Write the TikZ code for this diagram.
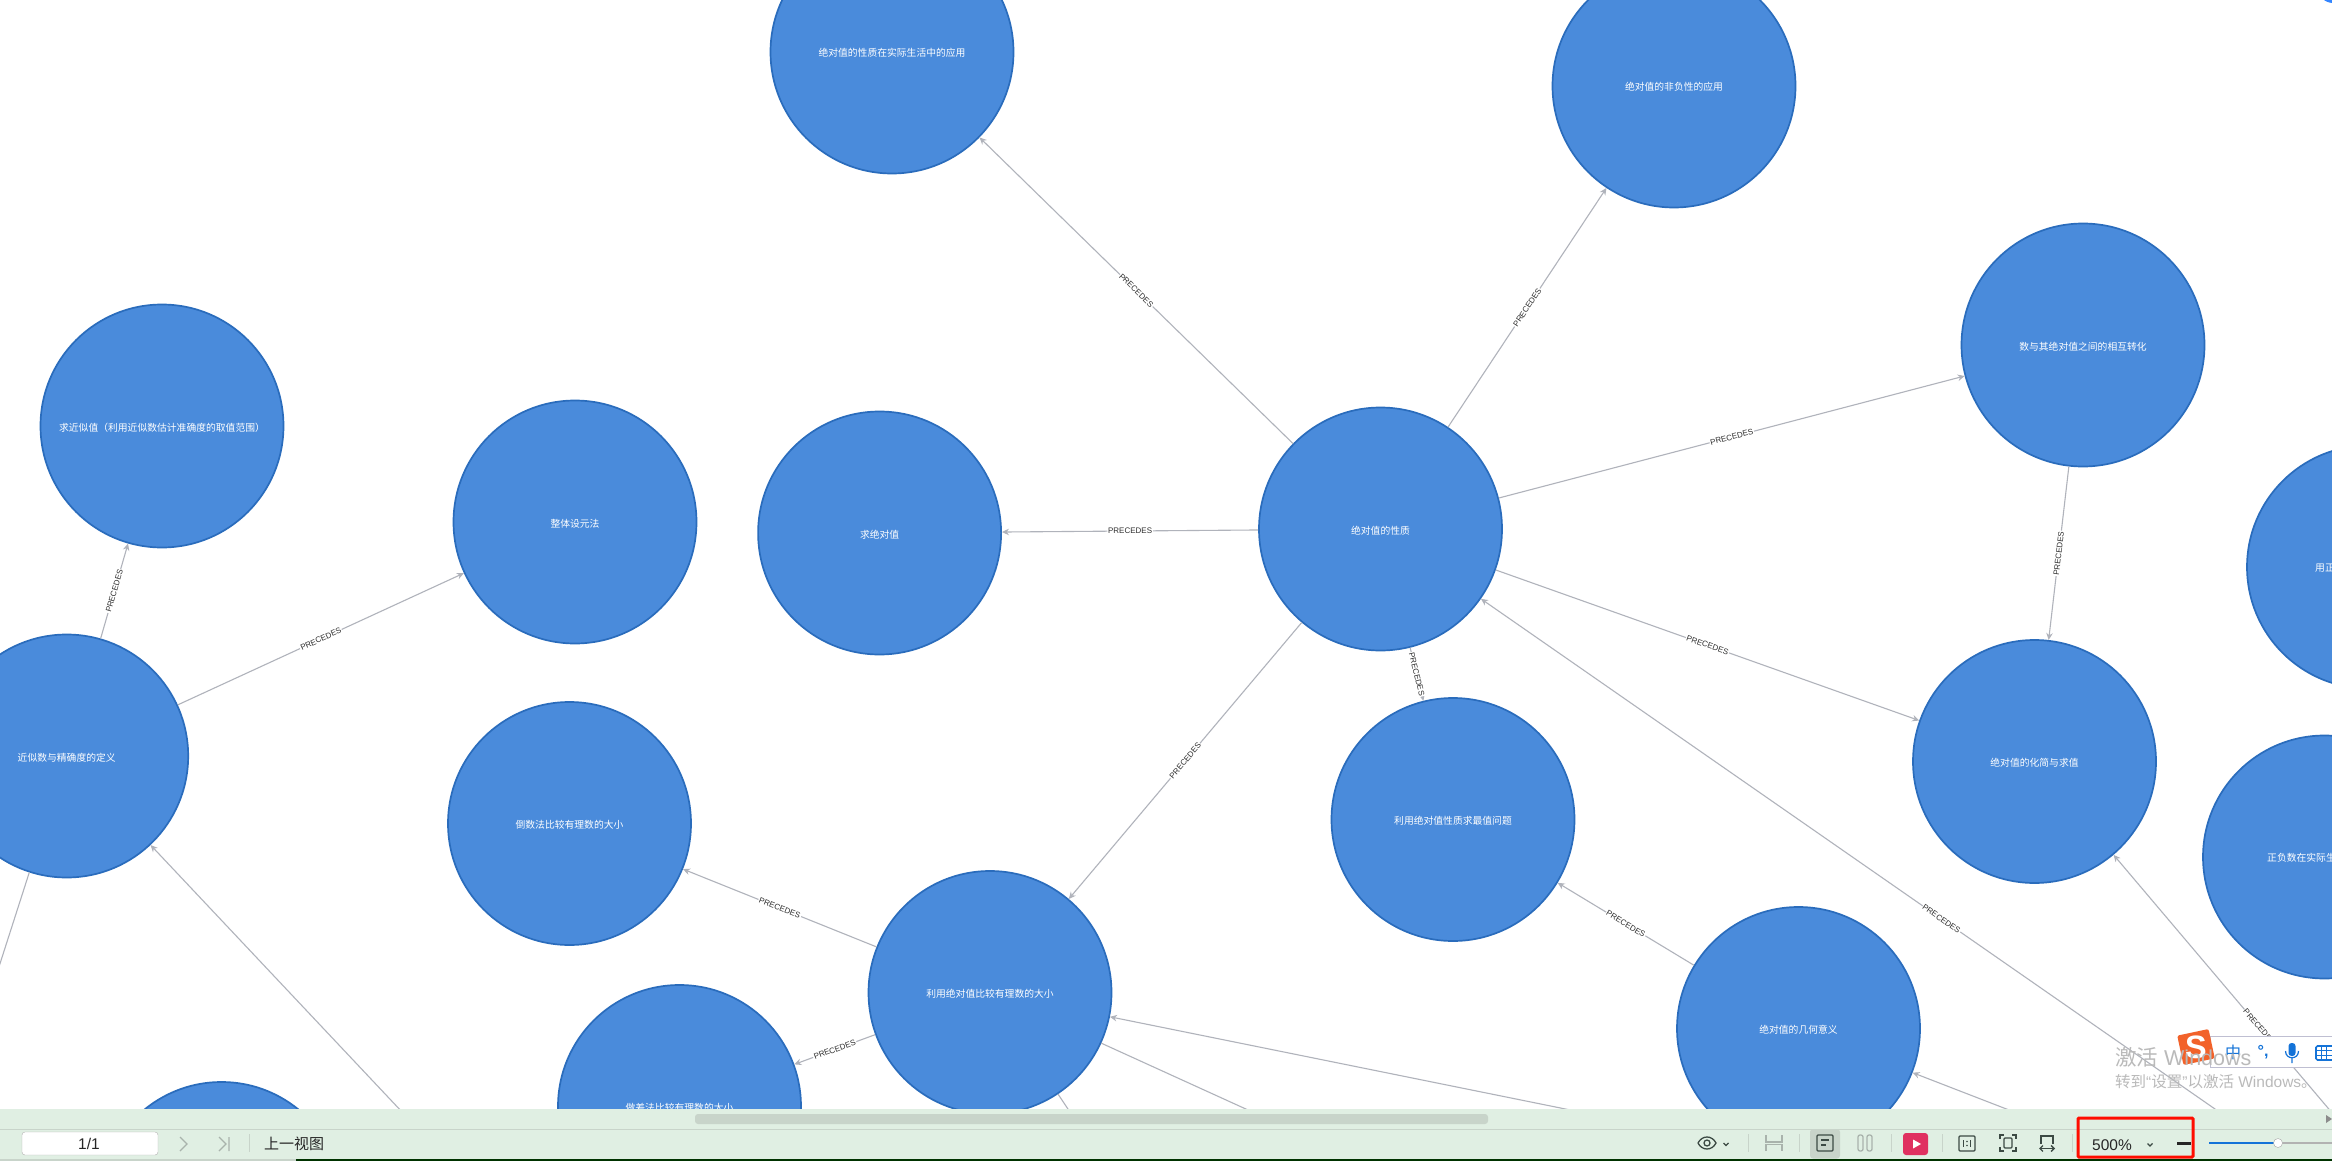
\documentclass[tikz,border=0pt]{standalone}
\usepackage{fontspec}
\setmainfont{Liberation Sans}
\newfontfamily\cjk{Noto Sans CJK SC}
\usetikzlibrary{arrows.meta}
\definecolor{topicfill}{HTML}{4A8BDB}
\definecolor{topicline}{HTML}{2A6CBC}
\definecolor{edgegray}{HTML}{B0B3BB}
\definecolor{bandgreen}{HTML}{E0EFE3}
\definecolor{bandline}{HTML}{C8D4CA}
\definecolor{iconink}{HTML}{3C4A44}
\definecolor{icongray}{HTML}{A9B3AC}
\definecolor{imeblue}{HTML}{1473D8}
\definecolor{playred}{HTML}{E03060}
\definecolor{logoorange}{HTML}{F2622A}
\tikzset{
  topic/.style={circle,draw=topicline,line width=1.7pt,fill=topicfill,minimum size=243pt,inner sep=0pt,text=white,font=\cjk\fontsize{9.8}{12}\selectfont},
  topictext/.style={text=white,inner sep=0pt,font=\cjk\fontsize{9.8}{12}\selectfont},
  rel/.style={draw=edgegray,line width=1.1pt,-{Stealth[length=7pt,width=6.5pt]}},
  plain/.style={draw=edgegray,line width=1.1pt},
  rellabel/.style={fill=white,inner sep=0.8pt,sloped,text=black!82,font=\fontsize{8}{9}\selectfont},
  barsep/.style={draw=bandline,line width=1pt},
  icon/.style={draw=iconink,line width=1.3pt},
  faint/.style={draw=icongray,line width=1.3pt},
  bartext/.style={text=black!85,inner sep=0pt,font=\fontsize{15.5}{17}\selectfont},
  watermark/.style={text=black!27,anchor=west,inner sep=0pt}
}
\begin{document}
\begin{tikzpicture}[x=1pt,y=-1pt]
  \useasboundingbox (0,0) rectangle (2332,1161);
  \fill[white] (0,0) rectangle (2332,1161);
  \fill[blue!60!cyan!80] (2333,-12) circle (15);
  % topics
  \foreach \nm/\cx/\cy/\txt in {
    xingzhi/1380.5/529/绝对值的性质,
    shiji/892/52/绝对值的性质在实际生活中的应用,
    feifu/1674/86/绝对值的非负性的应用,
    huxiang/2083/345/数与其绝对值之间的相互转化,
    huajian/2034.5/761.5/绝对值的化简与求值,
    qiujdz/879.6/533/求绝对值,
    zhengti/575/522/整体设元法,
    jinsi/162/426/求近似值（利用近似数估计准确度的取值范围）,
    dingyi/66.7/756/近似数与精确度的定义,
    daoshu/569.5/823.5/倒数法比较有理数的大小,
    bijiao/990/992.5/利用绝对值比较有理数的大小,
    zuocha/679.5/1106.5/做差法比较有理数的大小,
    zuizhi/1453/819.5/利用绝对值性质求最值问题,
    jihe/1798.5/1028.5/绝对值的几何意义,
    yongzheng/2368.5/567/,
    zhengfu/2324.5/857/,
    xiazuo/221.5/1203.5/}{
    \node[topic] (\nm) at (\cx,\cy) {\raisebox{-5pt}[0pt][0pt]{\txt}};}
  \node[topictext,anchor=west] (yongtxt) at (2315,568) {用正};
  \node[topictext,anchor=west] (zhengtxt) at (2267,858) {正负数在实际生};
  % ends that run off the page
  \foreach \nm/\cx/\cy in {fromfar/2402/1239,fromright/2405/1199,fromjihe/2040/1122,
    toleft/-30/1057,fromdown/420/1131,tobelow/1270/1120,tostub/1076/1121,frombelow/1600/1116}{
    \coordinate (\nm) at (\cx,\cy);}
  % relations
  \foreach \a/\b in {xingzhi/shiji,xingzhi/feifu,xingzhi/huxiang,huxiang/huajian,xingzhi/huajian,
    xingzhi/qiujdz,xingzhi/zuizhi,xingzhi/bijiao,bijiao/daoshu,bijiao/zuocha,jihe/zuizhi,
    dingyi/jinsi,dingyi/zhengti,fromfar/xingzhi,fromright/huajian}{
    \draw[rel] (\a) -- node[rellabel] {PRECEDES} (\b);}
  \foreach \a/\b in {fromjihe/jihe,frombelow/bijiao,fromdown/dingyi}{
    \draw[rel] (\a) -- (\b);}
  \foreach \a/\b in {dingyi/toleft,bijiao/tobelow,bijiao/tostub}{
    \draw[plain] (\a) -- (\b);}
  % viewer bar
  \fill[bandgreen] (0,1109) rectangle (2332,1159);
  \fill[bandline] (0,1159) rectangle (296,1161);
  \fill[black!80!green] (296,1159) rectangle (2332,1161);
  \draw[barsep] (0,1129) -- (2332,1129);
  \fill[bandline,rounded corners=3pt] (695,1114) rectangle (1488,1124);
  \fill[black!45] (2326,1115) -- (2332,1119) -- (2326,1123) -- cycle;
  \draw[black!30,fill=white,rounded corners=3pt] (22,1132) rectangle (158,1155);
  \node[bartext] (pagenum) at (89,1144) {1/1};
  \draw[faint] (180,1137) -- (187,1144) -- (180,1151);
  \draw[faint] (219,1137) -- (226,1144) -- (219,1151) (229,1137) -- (229,1151);
  \node[bartext,anchor=west,font=\cjk\fontsize{15}{17}\selectfont] (prevview) at (264,1144) {上一视图};
  \foreach \sx in {249,1748,1799,1891,1942,2072}{
    \draw[barsep] (\sx,1134) -- (\sx,1152);}
  \draw[icon] (1698,1143) .. controls (1702,1135) and (1712,1135) .. (1716,1143) .. controls (1712,1151) and (1702,1151) .. (1698,1143);
  \draw[icon] (1707,1143) circle (3);
  \draw[icon] (1723.5,1143) -- (1726,1145.5) -- (1728.5,1143);
  \draw[faint] (1766,1135) -- (1766,1142) -- (1782,1142) -- (1782,1135) (1766,1151) -- (1766,1144.5) -- (1782,1144.5) -- (1782,1151);
  \fill[bandline,rounded corners=3pt] (1810,1129) rectangle (1840,1158.5);
  \draw[icon,rounded corners=1pt] (1817,1135) rectangle (1833,1151);
  \draw[icon] (1821,1140) -- (1829,1140) (1821,1145) -- (1826,1145);
  \draw[faint,rounded corners=2pt] (1858,1135) rectangle (1863,1151) (1867,1135) rectangle (1872,1151);
  \fill[playred,rounded corners=3pt] (1903,1133) rectangle (1928,1155);
  \fill[white] (1913,1139.5) -- (1921,1144) -- (1913,1148.5) -- cycle;
  \draw[icon,rounded corners=1pt] (1959,1136) rectangle (1975,1151);
  \draw[icon] (1963.5,1140) -- (1963.5,1147) (1970.5,1140) -- (1970.5,1147);
  \fill[iconink] (1967,1141.5) circle (0.8) (1967,1145.5) circle (0.8);
  \draw[icon] (2000,1139) -- (2000,1135) -- (2004,1135) (2012,1135) -- (2016,1135) -- (2016,1139) (2016,1147) -- (2016,1151) -- (2012,1151) (2004,1151) -- (2000,1151) -- (2000,1147);
  \draw[icon,rounded corners=1pt] (2004,1138) rectangle (2012,1148);
  \draw[icon] (2041,1144) -- (2041,1136) -- (2053,1136) -- (2053,1144);
  \draw[icon,{Straight Barb[length=3pt]}-{Straight Barb[length=3pt]}] (2039,1148.5) -- (2055,1148.5);
  \draw[red!90!orange,line width=3pt,rounded corners=1pt] (2078,1118) rectangle (2193,1157);
  \node[bartext] (zoomlevel) at (2112,1145) {500\%};
  \draw[icon] (2147.5,1143.5) -- (2150,1146) -- (2152.5,1143.5);
  \fill[black!85] (2177,1142) rectangle (2191,1145);
  \draw[black!30,line width=2pt] (2278,1143) -- (2332,1143);
  \draw[imeblue,line width=2pt] (2209,1143) -- (2278,1143);
  \draw[black!35,fill=white] (2278,1143) circle (4.5);
  % input method and activation notice
  \draw[blue!30!black!25,fill=white] (2210,1036) rectangle (2340,1067);
  \node[text=imeblue,inner sep=0pt,font=\cjk\fontsize{16}{18}\selectfont] (imemode) at (2233,1052) {中};
  \node[text=imeblue,inner sep=0pt,font=\bfseries\fontsize{16}{18}\selectfont] (imepunct) at (2263,1052) {°,};
  \fill[imeblue,rounded corners=3pt] (2288.5,1043) rectangle (2295.5,1056);
  \draw[imeblue,line width=1.2pt] (2285.5,1051) .. controls (2285.5,1060) and (2298.5,1060) .. (2298.5,1051) (2292,1058) -- (2292,1063);
  \draw[imeblue,line width=1.6pt,fill=white,rounded corners=1.5pt] (2316,1046) rectangle (2336,1060);
  \draw[imeblue,line width=1pt] (2316,1050.5) -- (2336,1050.5) (2316,1055) -- (2336,1055) (2321,1046) -- (2321,1060) (2326,1046) -- (2326,1060);
  \fill[logoorange,rotate around={12:(2196,1047)},rounded corners=2pt] (2180,1032) rectangle (2212,1062);
  \node[text=white,inner sep=0pt,scale=1.2,font=\bfseries\fontsize{27}{30}\selectfont] (imelogo) at (2196,1047) {S};
  \node[watermark,font=\fontsize{21.5}{24}\selectfont] (activate) at (2115,1057) {{\cjk 激活} Windows};
  \node[watermark,font=\fontsize{15.5}{17}\selectfont] (gosettings) at (2115,1082) {{\cjk 转到}“{\cjk 设置}”{\cjk 以激活} Windows{\cjk 。}};
\end{tikzpicture}
\end{document}
